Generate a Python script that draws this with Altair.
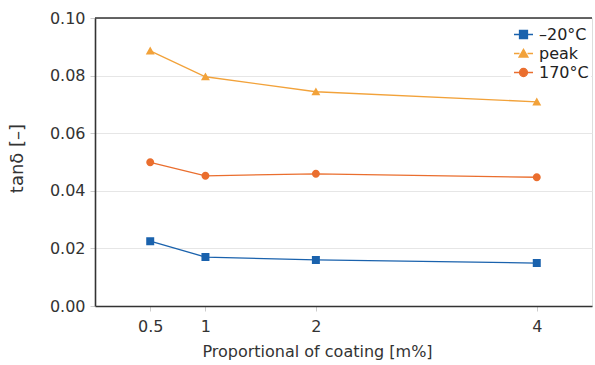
import altair as alt
import pandas as pd

coating = [0.5, 1, 2, 4]
series_names = ["\u201320\u00b0C", "peak", "170\u00b0C"]
minus20 = [0.0225, 0.0170, 0.0160, 0.0149]
peak = [0.0886, 0.0796, 0.0744, 0.0709]
t170 = [0.0499, 0.0452, 0.0459, 0.0447]
x_ticks = [0.5, 1, 2, 4]
y_ticks = [0.0, 0.02, 0.04, 0.06, 0.08, 0.10]

rows = []
for name, vals in zip(series_names, [minus20, peak, t170]):
    for xv, yv in zip(coating, vals):
        rows.append({"x": xv, "y": yv, "series": name})
df = pd.DataFrame(rows)

colors = ["#1a62ad", "#f2a23a", "#ea6e2e"]
FONT = "DejaVu Sans"

xenc = alt.X("x:Q", scale=alt.Scale(domain=[0, 4.5], nice=False),
             axis=alt.Axis(values=x_ticks, title="Proportional of coating [m%]",
                           grid=False, labelExpr="datum.value", titleX=222, titleY=37,
                           titleBaseline="top", titleAlign="center"))
yenc = alt.Y("y:Q", scale=alt.Scale(domain=[0, 0.1], nice=False),
             axis=alt.Axis(values=y_ticks, format=".2f", title="tan\u03b4 [\u2013]",
                           titleX=-78, titleY=140, titleAlign="center", titleFontSize=18,
                           titleBaseline="middle", titleAngle=-90))

# marker shapes; the short side strokes are only drawn in the legend
shape_paths = [
    "M-1,0H-0.42M0.42,0H1M-0.42,-0.42H0.42V0.42H-0.42Z",
    "M-1,0H-0.42M0.42,0H1M0,-0.45L0.47,0.38H-0.47Z",
    "M-1,0H-0.42M0.42,0H1M-0.42,0A0.42,0.42,0,1,0,0.42,0A0.42,0.42,0,1,0,-0.42,0Z",
]

leg = alt.Legend(
    title=None, orient="none", legendX=416, legendY=4,
    symbolSize=361, symbolStrokeWidth=1.3, symbolOpacity=1,
    labelFont=FONT, labelFontSize=16, labelColor="#222",
    labelOffset=5, rowPadding=0, fillColor="white", padding=2,
)

base = alt.Chart(df)

line_layers = [
    alt.Chart(df).transform_filter(alt.datum.series == name)
    .mark_line(strokeWidth=1.3, color=col).encode(x=xenc, y=yenc)
    for name, col in zip(series_names, colors)
]

points = base.mark_point(filled=True, opacity=1, size=361, strokeWidth=0).encode(
    x="x:Q", y="y:Q",
    fill=alt.Fill("series:N", scale=alt.Scale(domain=series_names, range=colors), legend=leg),
    stroke=alt.Stroke("series:N", scale=alt.Scale(domain=series_names, range=colors), legend=leg),
    shape=alt.Shape("series:N", scale=alt.Scale(domain=series_names, range=shape_paths), legend=leg),
)

top_rule = alt.Chart(pd.DataFrame({"t": [0.1]})).mark_rule(color="#333", strokeWidth=1.6).encode(
    y=alt.Y("t:Q", scale=alt.Scale(domain=[0, 0.1], nice=False))
)

chart = alt.layer(*line_layers, points, top_rule).properties(
    width=497, height=288,
    background="white",
    autosize=alt.AutoSizeParams(type="none"),
    padding={"left": 95, "top": 18, "right": 3, "bottom": 59},
).configure_view(
    stroke="#dddddd", strokeWidth=1
).configure_axis(
    labelFont=FONT, titleFont=FONT, labelFontSize=16, titleFontSize=16,
    labelColor="#333", titleColor="#333", titleFontWeight="normal",
    domainColor="#333", domainWidth=1.6, tickColor="#cccccc", tickSize=5,
    labelPadding=5, gridColor="#e6e6e6", gridWidth=1,
).configure_axisX(
    labelPadding=7,
)

chart.save("out.html", embed_options={"renderer": "svg", "actions": False})
